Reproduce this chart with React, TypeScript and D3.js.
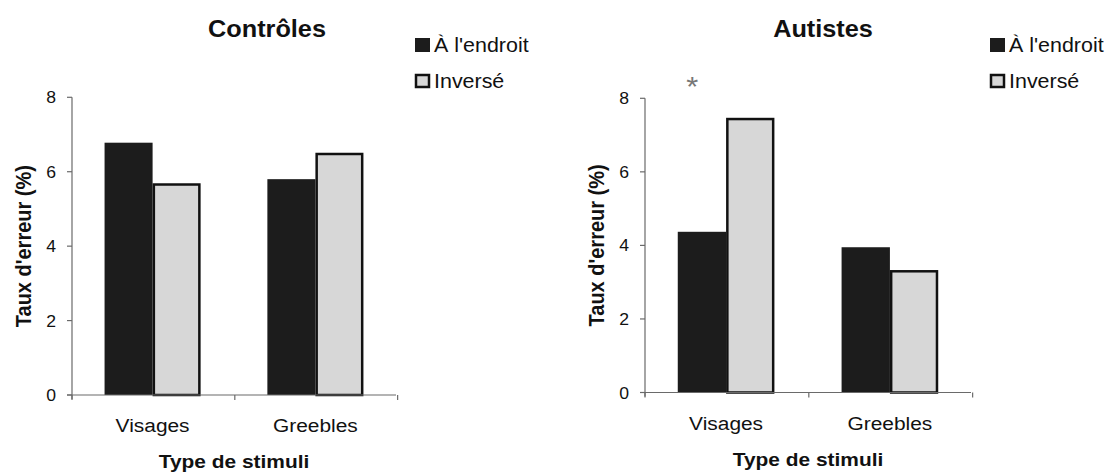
import React from 'react';
import * as d3 from 'd3';

// data
const categories = ['Visages', 'Greebles'];
const seriesNames = ["À l'endroit", 'Inversé'];
const controlesEndroit = [6.78, 5.8];
const controlesInverse = [5.69, 6.51];
const autistesEndroit = [4.37, 3.95];
const autistesInverse = [7.47, 3.33];
const yTicks = [0, 2, 4, 6, 8];

const FONT = '"Liberation Sans", Arial, sans-serif';
const SX = 1.1; // the original figure is a little stretched sideways
const DARK = '#1c1c1c';
const LIGHT = '#d7d7d7';
const AXIS = '#6a6a6a';

type TxtProps = {
  x: number;
  y: number;
  size: number;
  bold?: boolean;
  anchor?: string;
  rotate?: boolean;
  fill?: string;
  children: React.ReactNode;
};

const Txt = ({ x, y, size, bold, anchor = 'start', rotate, fill = '#111', children }: TxtProps) => (
  <text
    transform={`translate(${x},${y}) scale(${SX},1)${rotate ? ' rotate(-90)' : ''}`}
    textAnchor={anchor}
    fontSize={size}
    fontWeight={bold ? 'bold' : 'normal'}
    fontFamily={FONT}
    fill={fill}
  >
    {children}
  </text>
);

type PanelProps = {
  title: string;
  endroit: number[];
  inverse: number[];
  left: number;
  right: number;
  top: number;
  bottom: number;
  titleX: number;
  star?: boolean;
};

const Panel = ({ title, endroit, inverse, left, right, top, bottom, titleX, star }: PanelProps) => {
  const x = d3.scaleBand<string>()
    .domain(categories)
    .range([left, right])
    .paddingInner(0.41)
    .paddingOuter(0.2);
  const sub = d3.scaleBand<string>()
    .domain(seriesNames)
    .range([0, x.bandwidth()]);
  const y = d3.scaleLinear().domain([0, 8]).range([bottom, top]);
  const step = x.step();
  const bw = sub.bandwidth();
  const sw = 2.5;

  return (
    <g>
      {/* bars */}
      {categories.map((c, i) => {
        const x0 = x(c)!;
        const xa = x0 + sub(seriesNames[0])!;
        const xb = x0 + sub(seriesNames[1])!;
        return (
          <g key={c}>
            <rect x={xa} y={y(endroit[i])} width={bw} height={y(0) - y(endroit[i])} fill={DARK} />
            <rect
              x={xb + sw / 2}
              y={y(inverse[i]) + sw / 2}
              width={bw - sw}
              height={y(0) - y(inverse[i]) - sw / 2}
              fill={LIGHT}
              stroke="#111"
              strokeWidth={sw}
            />
          </g>
        );
      })}

      {/* y axis */}
      <line x1={left} x2={left} y1={y(8)} y2={y(0) + 4} stroke={AXIS} strokeWidth={1.2} />
      {yTicks.map(t => (
        <g key={t}>
          <line x1={left - 5} x2={left} y1={y(t)} y2={y(t)} stroke={AXIS} strokeWidth={1.2} />
          <Txt x={left - 16} y={y(t) + 6} size={16} anchor="end">{t}</Txt>
        </g>
      ))}

      {/* x axis */}
      <line x1={left - 5} x2={right} y1={y(0)} y2={y(0)} stroke={AXIS} strokeWidth={1.2} />
      {[0, 1, 2].map(k => (
        <line key={k} x1={left + k * step} x2={left + k * step} y1={y(0)} y2={y(0) + 5} stroke={AXIS} strokeWidth={1.2} />
      ))}
      {categories.map(c => (
        <Txt key={c} x={x(c)! + x.bandwidth() / 2} y={bottom + 37} size={19} anchor="middle">{c}</Txt>
      ))}

      {/* axis titles */}
      <Txt x={(left + right) / 2} y={bottom + 73} size={19} bold anchor="middle">Type de stimuli</Txt>
      <Txt x={left - 41} y={(top + bottom) / 2} size={20} bold anchor="middle" rotate>Taux d'erreur (%)</Txt>

      {/* title */}
      <Txt x={titleX} y={37} size={23} bold anchor="middle">{title}</Txt>

      {/* legend */}
      {seriesNames.map((s, i) => (
        <g key={s}>
          <rect
            x={right + 19 + 1}
            y={38 + i * 36 + 1}
            width={13}
            height={12}
            fill={i === 0 ? DARK : LIGHT}
            stroke="#111"
            strokeWidth={i === 0 ? 0 : 2.5}
          />
          {i === 0 && <rect x={right + 19} y={38} width={15} height={14} fill={DARK} />}
          <Txt x={right + 38} y={52 + i * 36} size={19.5}>{s}</Txt>
        </g>
      ))}

      {star && (
        <Txt x={x(categories[0])! + bw * 0.3} y={top - 2} size={28} anchor="middle" fill="#777">*</Txt>
      )}
    </g>
  );
};

export default function App() {
  return (
    <svg
      width={1106}
      height={474}
      viewBox="0 0 1106 474"
      style={{ position: 'absolute', left: 0, top: 0, background: '#fff' }}
    >
      <rect width={1106} height={474} fill="#fff" />
      <Panel
        title="Contrôles"
        endroit={controlesEndroit}
        inverse={controlesInverse}
        left={72}
        right={396}
        top={97.3}
        bottom={395}
        titleX={267}
      />
      <Panel
        title="Autistes"
        endroit={autistesEndroit}
        inverse={autistesInverse}
        left={645}
        right={971}
        top={98.3}
        bottom={392.5}
        titleX={823}
        star
      />
    </svg>
  );
}
